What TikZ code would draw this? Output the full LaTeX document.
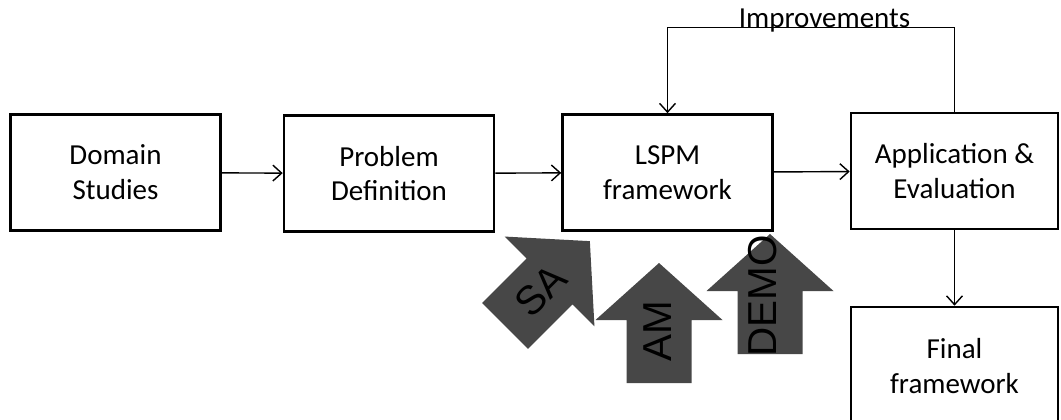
\documentclass[tikz,border=0pt]{standalone}
\usepackage{fontspec}
\setmainfont{Carlito}
\newfontfamily\arialfont{Liberation Sans}
\usepackage{tikz}
\usetikzlibrary{arrows.meta,positioning}

\newcommand{\fatarrow}[3]{\fill[fat,shift={(#1,#2)},rotate=#3] (-32.5,0) -- (-32.5,-63) -- (-63.5,-63) -- (0,-120) -- (63.5,-63) -- (32.5,-63) -- (32.5,0) -- cycle;}

\begin{document}
\begin{tikzpicture}
[x=0.02cm,y=-0.02cm,
box/.style={draw=black,line width=1.5pt,minimum width=4.2cm,minimum height=2.32cm,align=center,font=\fontsize{16.5}{19.8}\selectfont},
link/.style={-{Straight Barb[length=5pt,width=9pt]},line width=0.8pt},
fat/.style={fill=black!72},
fatlabel/.style={font=\arialfont\fontsize{23}{23}\selectfont,inner sep=0pt}]
\useasboundingbox (0,0) rectangle (1061,419);

\node[box] (dom) at (115.5,172.5) {Domain\\Studies};
\node[box] (prob) at (389,173.5) {Problem\\Definition};
\node[box] (lspm) at (667.5,172.5) {LSPM\\framework};
\node[box,minimum width=4.14cm] (app) at (954.5,171) {Application \&\\Evaluation};
\node[box,minimum width=4.14cm,minimum height=2.36cm] (final) at (954.5,366) {Final\\framework};
\node[font=\fontsize{16.5}{19.8}\selectfont,anchor=base,inner sep=0pt] (imp) at (824.5,28) {Improvements};

\draw[link] (dom) -- (prob);
\draw[link] (prob) -- (lspm);
\draw[link] (lspm) -- (app);
\draw[link] (app) -- (final);
\draw[link] (app.north) -- ++(0,-84) -| (lspm.north);

% input methods
\fatarrow{505}{326}{-45}
\fatarrow{659}{383}{0}
\fatarrow{770}{354}{0}
\node[fatlabel,rotate=45] (sa) at (541,291) {SA};
\node[fatlabel,rotate=90] (am) at (658,331) {AM};
\node[fatlabel,rotate=90] (demo) at (763,296) {DEMO};
\end{tikzpicture}
\end{document}
